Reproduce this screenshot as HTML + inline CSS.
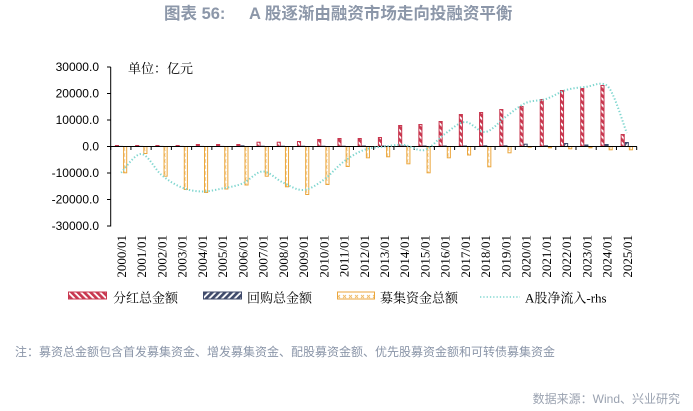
<!DOCTYPE html>
<html>
<head>
<meta charset="utf-8">
<style>
html,body{margin:0;padding:0;background:#fff;}
body{width:693px;height:411px;overflow:hidden;}
svg{display:block;}
.r{fill:url(#pr);stroke:#c8374f;stroke-width:1;}
.rs{fill:#c8374f;}
.b{fill:url(#pb);stroke:#3f4a6a;stroke-width:1;}
.bs{fill:#3f4a6a;}
.y{fill:url(#py);stroke:#eba63c;stroke-width:1;}
.ys{fill:#eba63c;}
.yl{font-family:"Liberation Sans",sans-serif;font-size:12px;fill:#000;text-anchor:end;}
.xl{font-family:"Liberation Serif",serif;font-size:13px;fill:#000;text-anchor:end;}
.lg{font-family:"Liberation Serif","Noto Serif CJK SC",serif;font-size:13px;fill:#000;}
</style>
</head>
<body>
<svg width="693" height="411" viewBox="0 0 693 411" xmlns="http://www.w3.org/2000/svg">
<defs>
<pattern id="pr" patternUnits="userSpaceOnUse" width="4.5" height="4.5" patternTransform="rotate(-45)">
<rect width="4.5" height="4.5" fill="#fff"/><rect width="2.7" height="4.5" fill="#c8374f"/>
</pattern>
<pattern id="pb" patternUnits="userSpaceOnUse" width="4.5" height="4.5" patternTransform="rotate(45)">
<rect width="4.5" height="4.5" fill="#fff"/><rect width="2.7" height="4.5" fill="#3f4a6a"/>
</pattern>
<pattern id="py" patternUnits="userSpaceOnUse" width="6" height="6">
<rect width="6" height="6" fill="#fff"/>
<path d="M1,1 L4,4 M4,1 L1,4" stroke="#f0bc6a" stroke-width="0.9"/>
</pattern>
</defs>

<!-- Title -->
<text x="164" y="19" style="font-family:'Liberation Sans','Noto Sans CJK SC',sans-serif;font-size:16.5px;font-weight:700;fill:#8c97a9;">图表 56:</text>
<text x="249" y="19" style="font-family:'Liberation Sans','Noto Sans CJK SC',sans-serif;font-size:16.5px;font-weight:700;fill:#8c97a9;">A 股逐渐由融资市场走向投融资平衡</text>

<!-- unit -->
<text x="128" y="73" style="font-family:'Liberation Serif','Noto Serif CJK SC',serif;font-size:13px;fill:#000;">单位：亿元</text>

<!-- Y labels -->
<text class="yl" x="99" y="71">30000.0</text>
<text class="yl" x="99" y="97.5">20000.0</text>
<text class="yl" x="99" y="124">10000.0</text>
<text class="yl" x="99" y="150.5">0.0</text>
<text class="yl" x="99" y="177">-10000.0</text>
<text class="yl" x="99" y="203.5">-20000.0</text>
<text class="yl" x="99" y="230">-30000.0</text>

<!-- Bars -->
<g transform="translate(121.1,146.5)"><rect class="rs" x="-6.2" y="-1.5" width="4.1" height="1.5"/><rect class="bs" x="-2.1" y="-0.6" width="4.1" height="0.6"/><rect class="y" x="2.5" y="0" width="3.1" height="26.3"/></g>
<g transform="translate(141.33,146.5)"><rect class="rs" x="-6.2" y="-1.5" width="4.1" height="1.5"/><rect class="bs" x="-2.1" y="-0.6" width="4.1" height="0.6"/><rect class="y" x="2.5" y="0" width="3.1" height="7"/></g>
<g transform="translate(161.56,146.5)"><rect class="rs" x="-6.2" y="-1.5" width="4.1" height="1.5"/><rect class="bs" x="-2.1" y="-0.6" width="4.1" height="0.6"/><rect class="y" x="2.5" y="0" width="3.1" height="29.7"/></g>
<g transform="translate(181.79,146.5)"><rect class="rs" x="-6.2" y="-1.5" width="4.1" height="1.5"/><rect class="bs" x="-2.1" y="-0.6" width="4.1" height="0.6"/><rect class="y" x="2.5" y="0" width="3.1" height="43"/></g>
<g transform="translate(202.02,146.5)"><rect class="rs" x="-6.2" y="-2.5" width="4.1" height="2.5"/><rect class="bs" x="-2.1" y="-0.6" width="4.1" height="0.6"/><rect class="y" x="2.5" y="0" width="3.1" height="46"/></g>
<g transform="translate(222.25,146.5)"><rect class="rs" x="-6.2" y="-2.5" width="4.1" height="2.5"/><rect class="bs" x="-2.1" y="-0.6" width="4.1" height="0.6"/><rect class="y" x="2.5" y="0" width="3.1" height="42.5"/></g>
<g transform="translate(242.48,146.5)"><rect class="rs" x="-6.2" y="-2.5" width="4.1" height="2.5"/><rect class="bs" x="-2.1" y="-1.2" width="4.1" height="1.2"/><rect class="y" x="2.5" y="0" width="3.1" height="38.5"/></g>
<g transform="translate(262.71,146.5)"><rect class="r" x="-5.7" y="-4.3" width="3.1" height="4.3"/><rect class="bs" x="-2.1" y="-0.8" width="4.1" height="0.8"/><rect class="y" x="2.5" y="0" width="3.1" height="29.7"/></g>
<g transform="translate(282.94,146.5)"><rect class="r" x="-5.7" y="-4.3" width="3.1" height="4.3"/><rect class="bs" x="-2.1" y="-0.8" width="4.1" height="0.8"/><rect class="y" x="2.5" y="0" width="3.1" height="40.3"/></g>
<g transform="translate(303.17,146.5)"><rect class="r" x="-5.7" y="-5" width="3.1" height="5"/><rect class="bs" x="-2.1" y="-0.8" width="4.1" height="0.8"/><rect class="y" x="2.5" y="0" width="3.1" height="48"/></g>
<g transform="translate(323.4,146.5)"><rect class="r" x="-5.7" y="-7" width="3.1" height="7"/><rect class="bs" x="-2.1" y="-0.8" width="4.1" height="0.8"/><rect class="y" x="2.5" y="0" width="3.1" height="38"/></g>
<g transform="translate(343.63,146.5)"><rect class="r" x="-5.7" y="-8" width="3.1" height="8"/><rect class="bs" x="-2.1" y="-0.8" width="4.1" height="0.8"/><rect class="y" x="2.5" y="0" width="3.1" height="20"/></g>
<g transform="translate(363.86,146.5)"><rect class="r" x="-5.7" y="-8" width="3.1" height="8"/><rect class="bs" x="-2.1" y="-1" width="4.1" height="1"/><rect class="y" x="2.5" y="0" width="3.1" height="11.3"/></g>
<g transform="translate(384.09,146.5)"><rect class="r" x="-5.7" y="-9" width="3.1" height="9"/><rect class="bs" x="-2.1" y="-1" width="4.1" height="1"/><rect class="y" x="2.5" y="0" width="3.1" height="10.3"/></g>
<g transform="translate(404.32,146.5)"><rect class="r" x="-5.7" y="-21" width="3.1" height="21"/><rect class="bs" x="-2.1" y="-1" width="4.1" height="1"/><rect class="y" x="2.5" y="0" width="3.1" height="17.3"/></g>
<g transform="translate(424.55,146.5)"><rect class="r" x="-5.7" y="-22" width="3.1" height="22"/><rect class="bs" x="-2.1" y="-1" width="4.1" height="1"/><rect class="y" x="2.5" y="0" width="3.1" height="26.3"/></g>
<g transform="translate(444.78,146.5)"><rect class="r" x="-5.7" y="-25" width="3.1" height="25"/><rect class="bs" x="-2.1" y="-1" width="4.1" height="1"/><rect class="y" x="2.5" y="0" width="3.1" height="11.3"/></g>
<g transform="translate(465.01,146.5)"><rect class="r" x="-5.7" y="-32" width="3.1" height="32"/><rect class="bs" x="-2.1" y="-1" width="4.1" height="1"/><rect class="y" x="2.5" y="0" width="3.1" height="8.5"/></g>
<g transform="translate(485.24,146.5)"><rect class="r" x="-5.7" y="-34" width="3.1" height="34"/><rect class="bs" x="-2.1" y="-1.2" width="4.1" height="1.2"/><rect class="y" x="2.5" y="0" width="3.1" height="20.3"/></g>
<g transform="translate(505.47,146.5)"><rect class="r" x="-5.7" y="-37" width="3.1" height="37"/><rect class="bs" x="-2.1" y="-1.2" width="4.1" height="1.2"/><rect class="y" x="2.5" y="0" width="3.1" height="6.3"/></g>
<g transform="translate(525.7,146.5)"><rect class="r" x="-5.7" y="-40" width="3.1" height="40"/><rect class="b" x="-1.6" y="-2.3" width="3.1" height="2.3"/><rect class="ys" x="2" y="0" width="4.1" height="1.2"/></g>
<g transform="translate(545.93,146.5)"><rect class="r" x="-5.7" y="-47" width="3.1" height="47"/><rect class="bs" x="-2.1" y="-1.2" width="4.1" height="1.2"/><rect class="ys" x="2" y="0" width="4.1" height="1.8"/></g>
<g transform="translate(566.16,146.5)"><rect class="r" x="-5.7" y="-56" width="3.1" height="56"/><rect class="b" x="-1.6" y="-3" width="3.1" height="3"/><rect class="y" x="2.5" y="0" width="3.1" height="2.3"/></g>
<g transform="translate(586.39,146.5)"><rect class="r" x="-5.7" y="-58" width="3.1" height="58"/><rect class="bs" x="-2.1" y="-2" width="4.1" height="2"/><rect class="ys" x="2" y="0" width="4.1" height="1.8"/></g>
<g transform="translate(606.62,146.5)"><rect class="r" x="-5.7" y="-61" width="3.1" height="61"/><rect class="bs" x="-2.1" y="-2.5" width="4.1" height="2.5"/><rect class="y" x="2.5" y="0" width="3.1" height="3.3"/></g>
<g transform="translate(626.85,146.5)"><rect class="r" x="-5.7" y="-12" width="3.1" height="12"/><rect class="b" x="-1.6" y="-4" width="3.1" height="4"/><rect class="y" x="2.5" y="0" width="3.1" height="3.3"/></g>

<!-- Axes -->
<g stroke="#000" stroke-width="1" fill="none">
<line x1="110.7" y1="67" x2="110.7" y2="226.5"/>
<path d="M107,67H110.7M107,93.5H110.7M107,120H110.7M107,146.5H110.7M107,173H110.7M107,199.5H110.7M107,226H110.7"/>
<line x1="110.7" y1="146.5" x2="637" y2="146.5"/>
<path d="M110.7,146.5V150M130.93,146.5V150M151.16,146.5V150M171.39,146.5V150M191.62,146.5V150M211.85,146.5V150M232.08,146.5V150M252.31,146.5V150M272.54,146.5V150M292.77,146.5V150M313,146.5V150M333.23,146.5V150M353.46,146.5V150M373.69,146.5V150M393.92,146.5V150M414.15,146.5V150M434.38,146.5V150M454.61,146.5V150M474.84,146.5V150M495.07,146.5V150M515.3,146.5V150M535.53,146.5V150M555.76,146.5V150M575.99,146.5V150M596.22,146.5V150M616.45,146.5V150M636.7,146.5V150"/>
</g>

<!-- Line (A股净流入-rhs) -->
<path fill="none" stroke="#7fd6cf" stroke-width="2" stroke-dasharray="1.3 2" d="M121.1,172.7 C124.47,169.58 134.59,153.62 141.33,154 C148.07,154.38 154.82,169.42 161.56,175 C168.3,180.58 175.05,184.75 181.79,187.5 C188.53,190.25 195.28,191.33 202.02,191.5 C208.76,191.67 215.51,189.83 222.25,188.5 C228.99,187.17 235.74,186.33 242.48,183.5 C249.22,180.67 255.97,171.67 262.71,171.5 C269.45,171.33 276.2,179.42 282.94,182.5 C289.68,185.58 296.43,190.42 303.17,190 C309.91,189.58 316.66,184.72 323.4,180 C330.14,175.28 336.89,166.7 343.63,161.7 C350.37,156.7 357.12,152.53 363.86,150 C370.6,147.47 377.35,147.33 384.09,146.5 C390.83,145.67 397.58,144.42 404.32,145 C411.06,145.58 417.81,151.83 424.55,150 C431.29,148.17 438.04,138.67 444.78,134 C451.52,129.33 458.27,122.33 465.01,122 C471.75,121.67 478.5,132.83 485.24,132 C491.98,131.17 498.73,121.83 505.47,117 C512.21,112.17 518.96,106 525.7,103 C532.44,100 539.19,101.17 545.93,99 C552.67,96.83 559.42,92.03 566.16,90 C572.9,87.97 579.65,87.58 586.39,86.8 C593.13,86.02 599.88,81.3 606.62,85.3 C613.36,89.3 623.48,125.05 626.85,133"/>

<!-- X labels -->
<text class="xl" transform="translate(126,235) rotate(-90)">2000/01</text>
<text class="xl" transform="translate(146.23,235) rotate(-90)">2001/01</text>
<text class="xl" transform="translate(166.46,235) rotate(-90)">2002/01</text>
<text class="xl" transform="translate(186.69,235) rotate(-90)">2003/01</text>
<text class="xl" transform="translate(206.92,235) rotate(-90)">2004/01</text>
<text class="xl" transform="translate(227.15,235) rotate(-90)">2005/01</text>
<text class="xl" transform="translate(247.38,235) rotate(-90)">2006/01</text>
<text class="xl" transform="translate(267.61,235) rotate(-90)">2007/01</text>
<text class="xl" transform="translate(287.84,235) rotate(-90)">2008/01</text>
<text class="xl" transform="translate(308.07,235) rotate(-90)">2009/01</text>
<text class="xl" transform="translate(328.3,235) rotate(-90)">2010/01</text>
<text class="xl" transform="translate(348.53,235) rotate(-90)">2011/01</text>
<text class="xl" transform="translate(368.76,235) rotate(-90)">2012/01</text>
<text class="xl" transform="translate(388.99,235) rotate(-90)">2013/01</text>
<text class="xl" transform="translate(409.22,235) rotate(-90)">2014/01</text>
<text class="xl" transform="translate(429.45,235) rotate(-90)">2015/01</text>
<text class="xl" transform="translate(449.68,235) rotate(-90)">2016/01</text>
<text class="xl" transform="translate(469.91,235) rotate(-90)">2017/01</text>
<text class="xl" transform="translate(490.14,235) rotate(-90)">2018/01</text>
<text class="xl" transform="translate(510.37,235) rotate(-90)">2019/01</text>
<text class="xl" transform="translate(530.6,235) rotate(-90)">2020/01</text>
<text class="xl" transform="translate(550.83,235) rotate(-90)">2021/01</text>
<text class="xl" transform="translate(571.06,235) rotate(-90)">2022/01</text>
<text class="xl" transform="translate(591.29,235) rotate(-90)">2023/01</text>
<text class="xl" transform="translate(611.52,235) rotate(-90)">2024/01</text>
<text class="xl" transform="translate(631.75,235) rotate(-90)">2025/01</text>

<!-- Legend -->
<rect x="68.5" y="292" width="38" height="7" fill="url(#pr)" stroke="#c8374f" stroke-width="1"/>
<text class="lg" x="113" y="302.5">分红总金额</text>
<rect x="203.5" y="292" width="38" height="7" fill="url(#pb)" stroke="#3f4a6a" stroke-width="1"/>
<text class="lg" x="247" y="302.5">回购总金额</text>
<rect x="337.5" y="292" width="37" height="7" fill="url(#py)" stroke="#eba63c" stroke-width="1"/>
<text class="lg" x="380" y="302.5">募集资金总额</text>
<line x1="480" y1="297" x2="520" y2="297" stroke="#7fd6cf" stroke-width="1.6" stroke-dasharray="1.3 2"/>
<text class="lg" x="525" y="302.5">A股净流入-rhs</text>

<!-- Note & source -->
<text x="15" y="356" style="font-family:'Liberation Sans','Noto Sans CJK SC',sans-serif;font-size:12px;fill:#8a95a8;">注：募资总金额包含首发募集资金、增发募集资金、配股募资金额、优先股募资金额和可转债募集资金</text>
<text x="680" y="403" text-anchor="end" style="font-family:'Liberation Sans','Noto Sans CJK SC',sans-serif;font-size:12px;fill:#9aa2b0;">数据来源：Wind、兴业研究</text>
</svg>
</body>
</html>
